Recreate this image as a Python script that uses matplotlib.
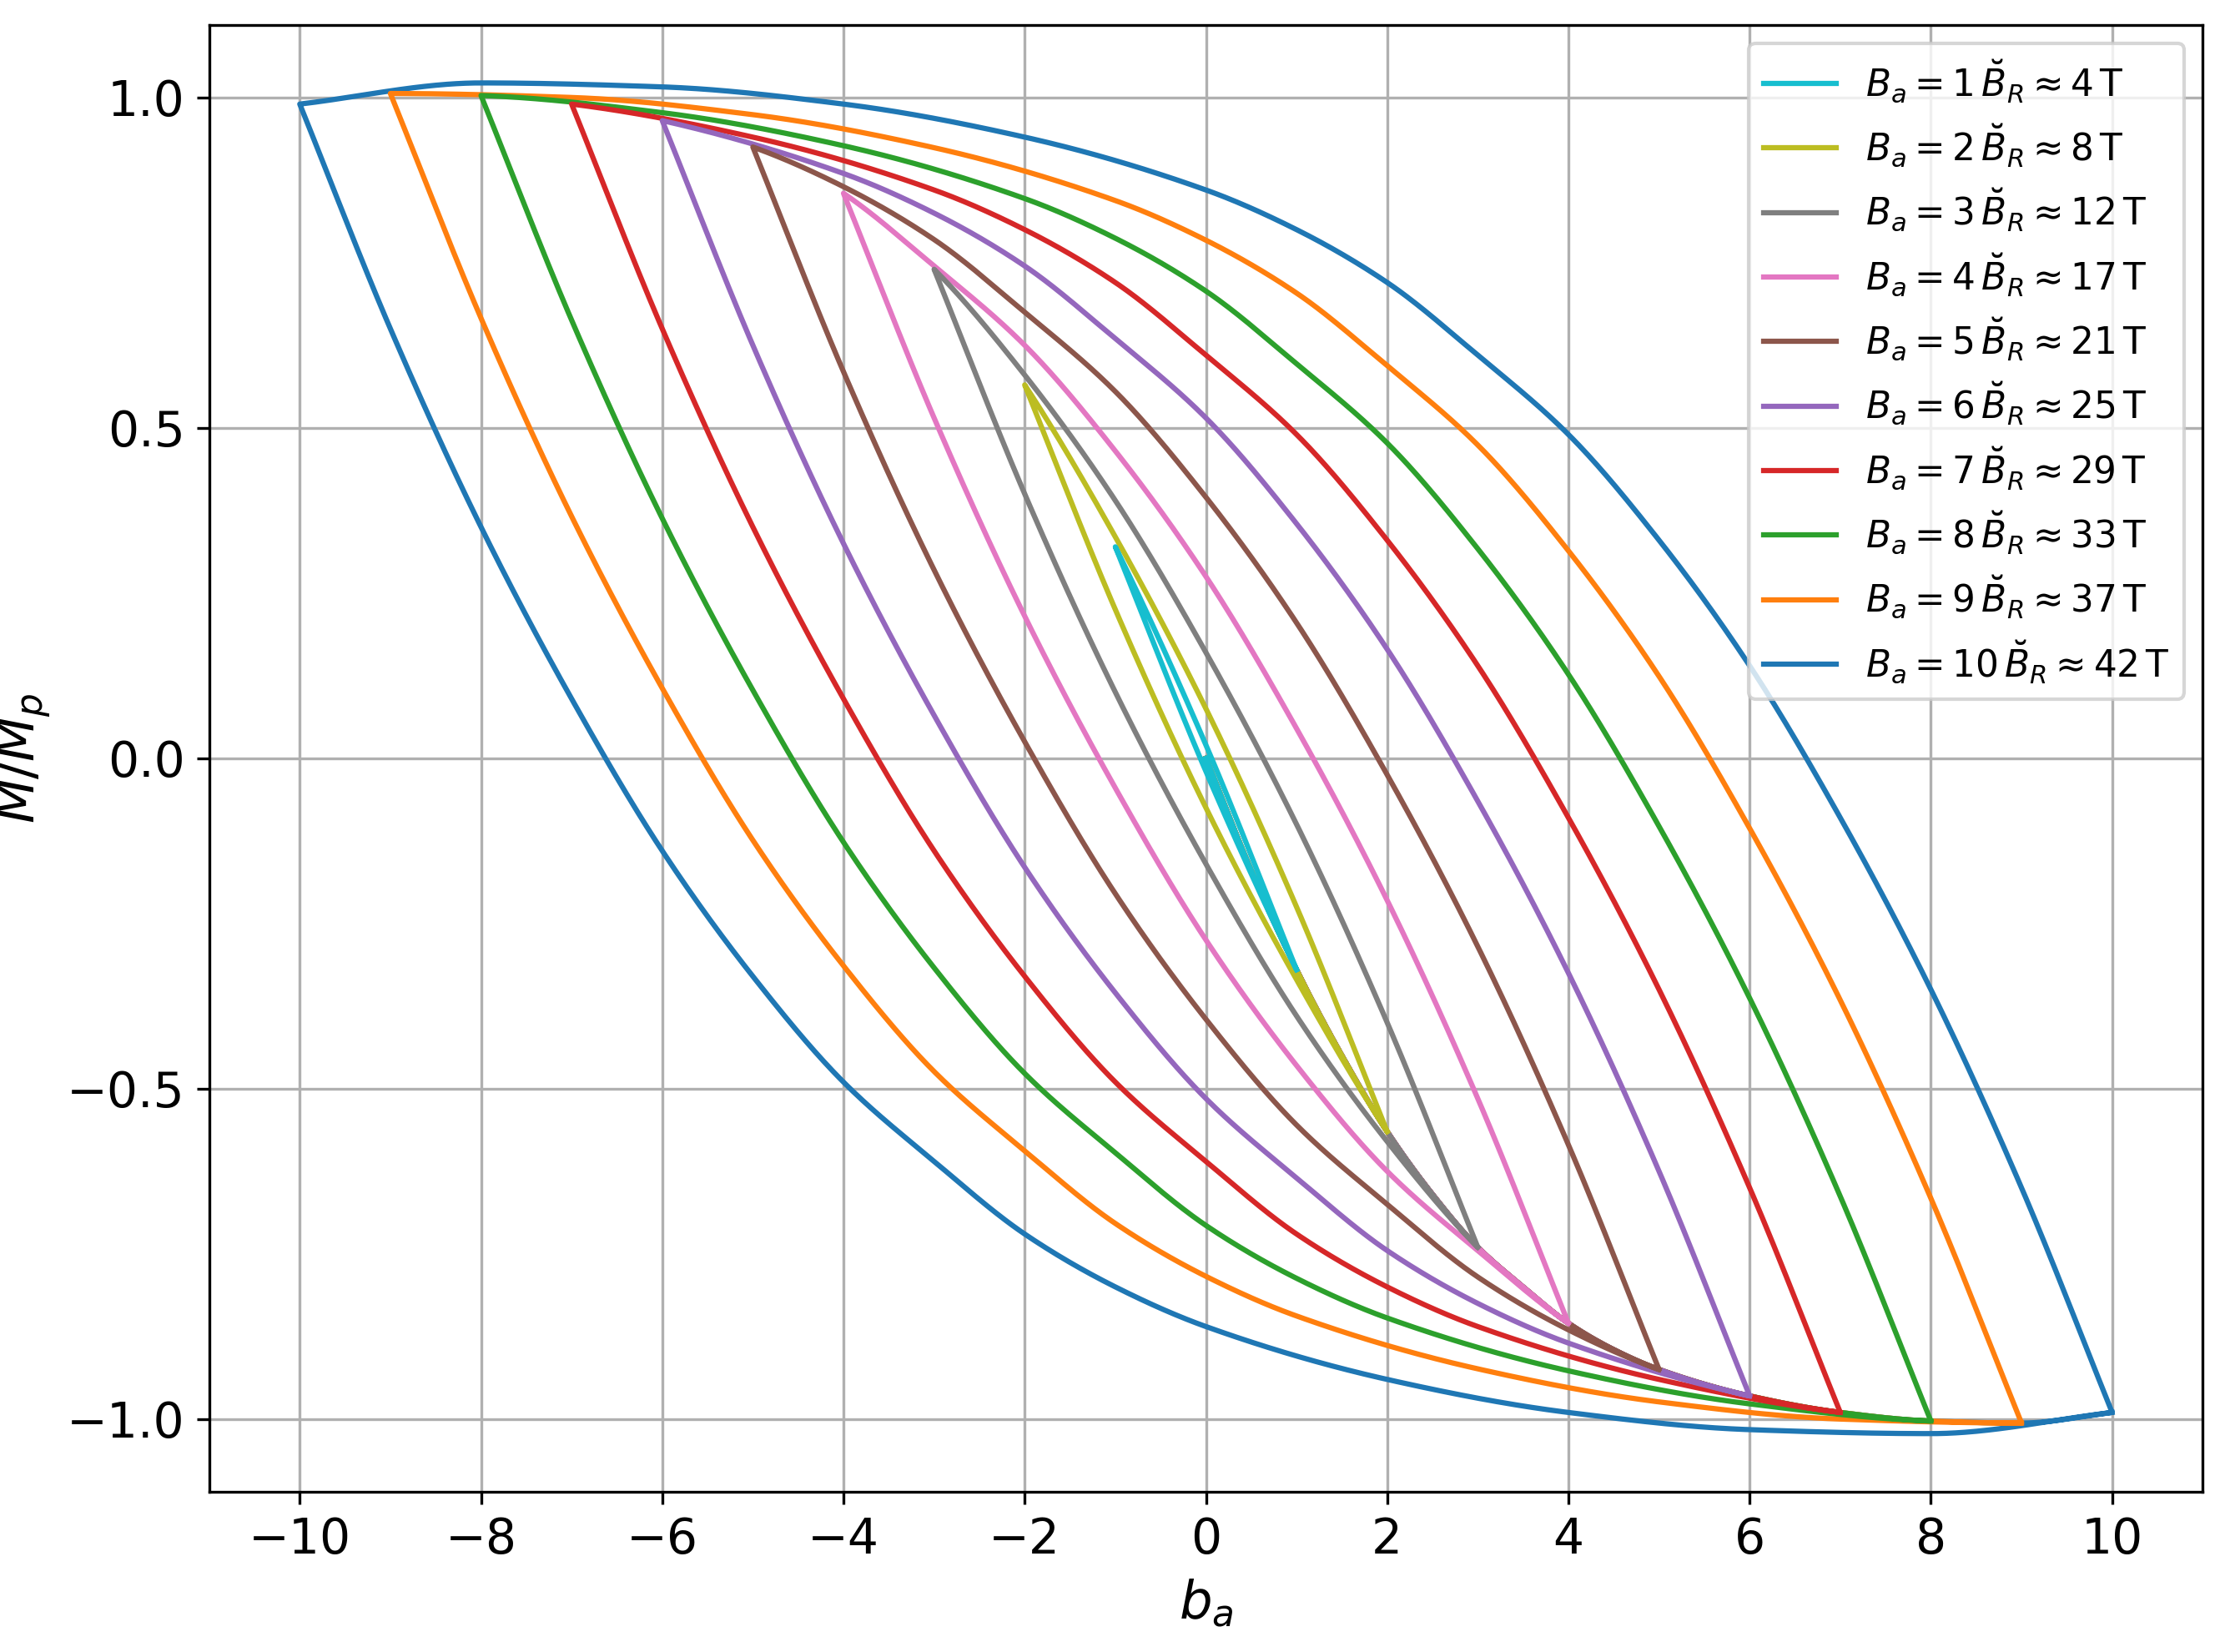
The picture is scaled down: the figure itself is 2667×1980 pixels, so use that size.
import numpy as np
import matplotlib
matplotlib.use("Agg")
import matplotlib.pyplot as plt

amplitudes = [1, 2, 3, 4, 5, 6, 7, 8, 9, 10]
tesla = [4, 8, 12, 17, 21, 25, 29, 33, 37, 42]
colors = ["tab:cyan", "tab:olive", "tab:gray", "tab:pink", "tab:brown",
          "tab:purple", "tab:red", "tab:green", "tab:orange", "tab:blue"]
# virgin-curve magnitude |M/Mp| read from loop tips
virgin_b = [0, 0.5, 1, 1.5, 2, 2.5, 3, 3.5, 4, 4.5, 5, 6, 7, 8, 9, 10]
virgin_m = [0, 0.17, 0.32, 0.45, 0.565, 0.66, 0.74, 0.80, 0.855, 0.895, 0.925, 0.965, 0.99, 1.003, 1.006, 0.99]


def pchip(xk, yk, x):
    xk = np.asarray(xk, float); yk = np.asarray(yk, float)
    h = np.diff(xk); d = np.diff(yk) / h
    m = np.zeros_like(yk)
    for k in range(1, len(xk) - 1):
        if d[k - 1] * d[k] > 0:
            w1 = 2 * h[k] + h[k - 1]; w2 = h[k] + 2 * h[k - 1]
            m[k] = (w1 + w2) / (w1 / d[k - 1] + w2 / d[k])
    m[0] = d[0]; m[-1] = d[-1]
    x = np.asarray(x, float)
    i = np.clip(np.searchsorted(xk, x) - 1, 0, len(xk) - 2)
    t = (x - xk[i]) / h[i]
    h00 = 2 * t**3 - 3 * t**2 + 1; h10 = t**3 - 2 * t**2 + t
    h01 = -2 * t**3 + 3 * t**2; h11 = t**3 - t**2
    return h00 * yk[i] + h10 * h[i] * m[i] + h01 * yk[i + 1] + h11 * h[i] * m[i + 1]


def f(x):
    return pchip(virgin_b, virgin_m, x)


fig, ax = plt.subplots(figsize=(8.89, 6.6), dpi=300)
n = len(amplitudes)
for i, (A, T, c) in enumerate(zip(amplitudes, tesla, colors)):
    b1 = np.linspace(0, A, 300)
    m1 = -f(b1)
    b2 = np.linspace(A, -A, 800)
    m2 = -f(A) + 2 * f((A - b2) / 2)
    b3 = np.linspace(-A, A, 800)
    m3 = f(A) - 2 * f((b3 + A) / 2)
    b = np.concatenate([b1, b2, b3])
    m = np.concatenate([m1, m2, m3])
    ax.plot(b, m, color=c, lw=1.5, zorder=3 + n - i,
            label=r"$B_a = %d\,\breve{B}_R \approx %d\,$T" % (A, T))

ax.set_xlim(-11, 11)
ax.set_ylim(-1.11, 1.11)
ax.set_xticks(range(-10, 11, 2))
ax.set_yticks([-1.0, -0.5, 0.0, 0.5, 1.0])
ax.grid(True)
ax.set_xlabel(r"$b_a$", fontsize=15)
ax.set_ylabel(r"$M/M_p$", fontsize=15)
ax.tick_params(labelsize=14)
ax.legend(loc="upper right", fontsize=10.5)
fig.subplots_adjust(left=0.094, right=0.99, top=0.985, bottom=0.097)
fig.savefig("out.png")
